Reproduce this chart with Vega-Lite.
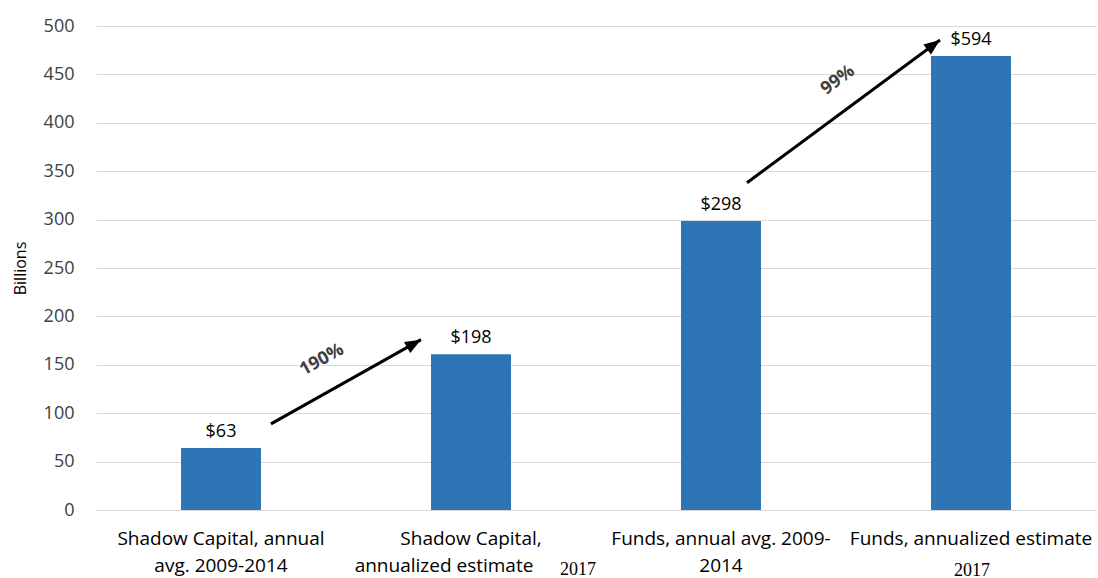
{
  "$schema": "https://vega.github.io/schema/vega-lite/v6.json",
  "width": 1000,
  "height": 484,
  "autosize": {"type": "none"},
  "padding": {"left": 96, "top": 26, "right": 2, "bottom": 68},
  "background": "white",
  "config": {
    "view": {"stroke": null},
    "font": "Open Sans",
    "axisY": {
      "titleFontWeight": "normal", "titleColor": "#000000",
      "labelFontSize": 18, "labelColor": "#404040", "labelPadding": 22,
      "ticks": false, "domain": false, "gridColor": "#d9d9d9", "gridWidth": 1
    }
  },
  "datasets": {
    "bars": [
      {"category": "Shadow Capital, annual avg. 2009-2014", "value": 64, "label": "$63"},
      {"category": "Shadow Capital, annualized estimate 2017", "value": 161, "label": "$198"},
      {"category": "Funds, annual avg. 2009-2014", "value": 298.5, "label": "$298"},
      {"category": "Funds, annualized estimate 2017", "value": 469, "label": "$594"}
    ],
    "arrows": [
      {"name": "shadow", "x": 0.7, "y": 89, "x2": 1.3, "y2": 176, "pct": "190%", "px": 0.904, "py": 155},
      {"name": "funds", "x": 2.604, "y": 338, "x2": 3.376, "y2": 485.5, "pct": "99%", "px": 2.968, "py": 444}
    ]
  },
  "layer": [
    {
      "data": {"name": "bars"},
      "encoding": {
        "x": {
          "field": "category", "type": "nominal", "sort": null,
          "scale": {"paddingInner": 0.68, "paddingOuter": 0.34},
          "axis": {
            "title": null, "labelAngle": 0, "labelFontSize": 19, "labelColor": "#000000",
            "labelPadding": 19, "labelLineHeight": 27, "labelBaseline": "top",
            "labelLimit": 400, "labelOverlap": false, "labelBound": false,
            "ticks": false, "domainColor": "#d9d9d9", "domainWidth": 1,
            "labelExpr": "datum.value == 'Shadow Capital, annual avg. 2009-2014' ? ['Shadow Capital, annual', 'avg. 2009-2014'] : datum.value == 'Shadow Capital, annualized estimate 2017' ? ['Shadow Capital,', ''] : datum.value == 'Funds, annual avg. 2009-2014' ? ['Funds, annual avg. 2009-', '2014'] : ['Funds, annualized estimate', '']"
          }
        },
        "y": {
          "field": "value", "type": "quantitative",
          "scale": {"domain": [0, 500], "nice": false},
          "axis": {
            "title": "Billions", "titleFontSize": 16, "titleFontWeight": "normal",
            "titleAngle": 270, "titleX": -76, "titleY": 242, "titleAlign": "center", "titleBaseline": "middle",
            "titleLimit": 300,
            "values": [0, 50, 100, 150, 200, 250, 300, 350, 400, 450, 500]
          }
        }
      },
      "layer": [
        {"mark": {"type": "bar", "color": "#2e75b6"}},
        {
          "mark": {"type": "text", "dy": -11, "baseline": "alphabetic", "fontSize": 18, "color": "#000000"},
          "encoding": {"text": {"field": "label"}}
        },
        {
          "transform": [{"filter": "datum.category == 'Shadow Capital, annualized estimate 2017'"}],
          "mark": {"type": "text", "fontSize": 19, "dx": -27, "dy": 56, "baseline": "middle", "align": "center", "color": "#000000"},
          "encoding": {"y": {"datum": 0}, "text": {"value": "annualized estimate"}}
        },
        {
          "transform": [{"filter": "datum.category == 'Shadow Capital, annualized estimate 2017'"}],
          "mark": {"type": "text", "font": "Liberation Serif", "fontSize": 18, "dx": 107, "dy": 60, "baseline": "middle", "color": "#000000"},
          "encoding": {"y": {"datum": 0}, "text": {"value": "2017"}}
        },
        {
          "transform": [{"filter": "datum.category == 'Funds, annualized estimate 2017'"}],
          "mark": {"type": "text", "font": "Liberation Serif", "fontSize": 18, "dx": 1, "dy": 61, "baseline": "middle", "color": "#000000"},
          "encoding": {"y": {"datum": 0}, "text": {"value": "2017"}}
        }
      ]
    },
    {
      "data": {"name": "arrows"},
      "layer": [
        {
          "mark": {"type": "rule", "strokeWidth": 3, "color": "#000000"},
          "encoding": {
            "x": {"field": "x", "type": "quantitative", "scale": {"domain": [0, 4], "nice": false, "zero": false}, "axis": null},
            "y": {"field": "y", "type": "quantitative"},
            "x2": {"field": "x2"},
            "y2": {"field": "y2"}
          }
        },
        {
          "transform": [{"filter": "datum.name == 'shadow'"}],
          "mark": {"type": "point", "shape": "M0,0L0.6,1.5L-0.6,1.5Z", "filled": true, "opacity": 1, "size": 450, "color": "#000000", "angle": 60.6},
          "encoding": {
            "x": {"field": "x2", "type": "quantitative", "scale": {"domain": [0, 4], "nice": false, "zero": false}, "axis": null},
            "y": {"field": "y2", "type": "quantitative"}
          }
        },
        {
          "transform": [{"filter": "datum.name == 'funds'"}],
          "mark": {"type": "point", "shape": "M0,0L0.6,1.5L-0.6,1.5Z", "filled": true, "opacity": 1, "size": 450, "color": "#000000", "angle": 53.5},
          "encoding": {
            "x": {"field": "x2", "type": "quantitative", "scale": {"domain": [0, 4], "nice": false, "zero": false}, "axis": null},
            "y": {"field": "y2", "type": "quantitative"}
          }
        },
        {
          "transform": [{"filter": "datum.name == 'shadow'"}],
          "mark": {"type": "text", "angle": 331, "fontSize": 18, "fontWeight": "bold", "color": "#404040", "align": "center", "baseline": "middle"},
          "encoding": {
            "x": {"field": "px", "type": "quantitative", "scale": {"domain": [0, 4], "nice": false, "zero": false}, "axis": null},
            "y": {"field": "py", "type": "quantitative"},
            "text": {"field": "pct"}
          }
        },
        {
          "transform": [{"filter": "datum.name == 'funds'"}],
          "mark": {"type": "text", "angle": 323, "fontSize": 18, "fontWeight": "bold", "color": "#404040", "align": "center", "baseline": "middle"},
          "encoding": {
            "x": {"field": "px", "type": "quantitative", "scale": {"domain": [0, 4], "nice": false, "zero": false}, "axis": null},
            "y": {"field": "py", "type": "quantitative"},
            "text": {"field": "pct"}
          }
        }
      ]
    }
  ],
  "resolve": {"scale": {"x": "independent"}, "axis": {"x": "independent"}}
}
